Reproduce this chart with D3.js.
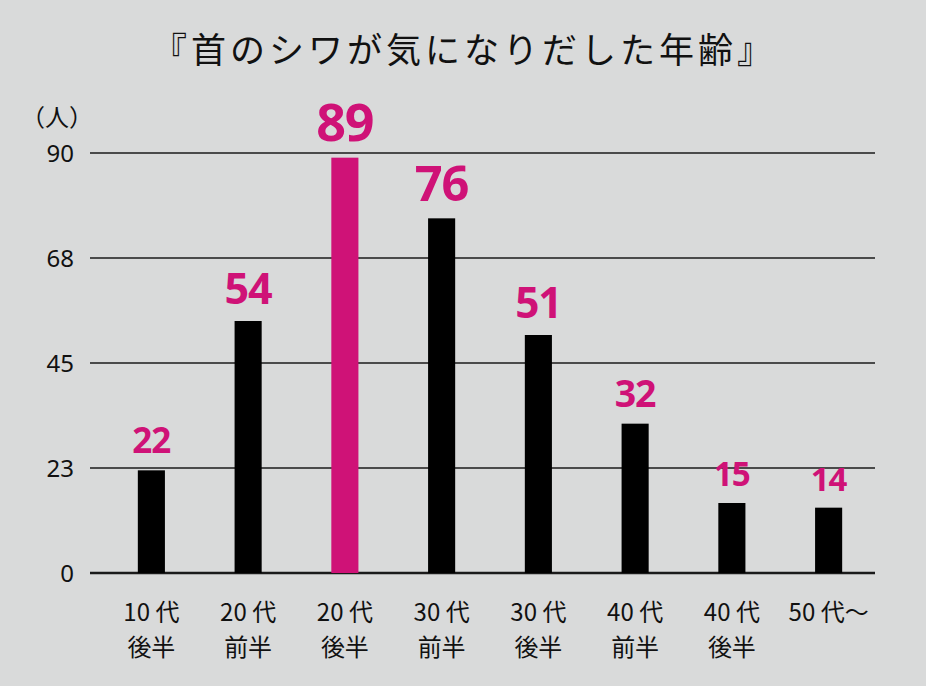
<!DOCTYPE html>
<html>
<head>
<meta charset="utf-8">
<script src="https://d3js.org/d3.v7.min.js"></script>
<style>
  html, body { margin: 0; padding: 0; background: #d9dada; }
  svg { display: block; }
</style>
</head>
<body>
<script>
// data
var title = "『首のシワが気になりだした年齢』";
var unitLabel = "（人）";
var ageGroup = ["10 代", "20 代", "20 代", "30 代", "30 代", "40 代", "40 代", "50 代〜"];
var ageHalf = ["後半", "前半", "後半", "前半", "後半", "前半", "後半", ""];
var counts = [22, 54, 89, 76, 51, 32, 15, 14];
var yTicks = [0, 22.5, 45, 67.5, 90];
var yTickLabels = ["0", "23", "45", "68", "90"];
var highlight = 2;

var w = 926, h = 686;
var pink = "#cf1277";

var svg = d3.select("body")
            .append("svg")
            .attr("width", w)
            .attr("height", h);

var x = d3.scaleBand()
          .domain(d3.range(counts.length))
          .range([103, 877])
          .paddingInner(0.72)
          .paddingOuter(0.36);

var y = d3.scaleLinear()
          .domain([0, 90])
          .range([573, 153]);

// label size grows with the value
var labelSize = d3.scaleLinear().domain([14, 89]).range([33, 52]);

svg.append("text")
   .attr("x", w / 2 + 1)
   .attr("y", 63)
   .attr("text-anchor", "middle")
   .attr("font-family", "'Noto Sans CJK JP', sans-serif")
   .attr("font-size", 35)
   .attr("letter-spacing", 4)
   .attr("fill", "#111")
   .text(title);

svg.append("text")
   .attr("x", 57)
   .attr("y", 126)
   .attr("text-anchor", "middle")
   .attr("font-family", "'Noto Sans CJK JP', sans-serif")
   .attr("font-size", 24)
   .attr("fill", "#111")
   .text(unitLabel);

// gridlines
svg.selectAll("line.grid")
   .data(yTicks)
   .enter()
   .append("line")
   .attr("class", "grid")
   .attr("x1", 90)
   .attr("x2", 875)
   .attr("y1", function(d){ return y(d); })
   .attr("y2", function(d){ return y(d); })
   .attr("stroke", "#1a1a1a")
   .attr("stroke-width", function(d){ return d === 0 ? 2.5 : 1.5; });

svg.selectAll("text.ytick")
   .data(yTicks)
   .enter()
   .append("text")
   .attr("class", "ytick")
   .attr("x", 74)
   .attr("y", function(d){ return y(d) + 9; })
   .attr("text-anchor", "end")
   .attr("font-family", "'Noto Sans', sans-serif")
   .attr("font-size", 24)
   .attr("fill", "#111")
   .text(function(d, i){ return yTickLabels[i]; });

svg.selectAll("rect.bar")
   .data(counts)
   .enter()
   .append("rect")
   .attr("class", "bar")
   .attr("x", function(d, i){ return x(i); })
   .attr("width", x.bandwidth())
   .attr("y", function(d){ return y(d); })
   .attr("height", function(d){ return y(0) - y(d); })
   .attr("fill", function(d, i){ return i === highlight ? pink : "#000"; });

svg.selectAll("text.val")
   .data(counts)
   .enter()
   .append("text")
   .attr("class", "val")
   .attr("x", function(d, i){ return x(i) + x.bandwidth() / 2; })
   .attr("y", function(d){ return y(d) - 17; })
   .attr("text-anchor", "middle")
   .attr("font-family", "'Noto Sans', sans-serif")
   .attr("font-weight", "bold")
   .attr("font-size", function(d){ return labelSize(d); })
   .attr("letter-spacing", -1)
   .attr("fill", pink)
   .text(function(d){ return d; });

var cat = svg.selectAll("g.cat")
   .data(ageGroup)
   .enter()
   .append("g")
   .attr("class", "cat")
   .attr("transform", function(d, i){
       return "translate(" + (x(i) + x.bandwidth() / 2) + ",0)";
   });

cat.append("text")
   .attr("y", 621)
   .attr("text-anchor", "middle")
   .attr("font-family", "'Noto Sans CJK JP', sans-serif")
   .attr("font-size", 24)
   .attr("fill", "#111")
   .text(function(d){ return d; });

cat.append("text")
   .attr("y", 656)
   .attr("text-anchor", "middle")
   .attr("font-family", "'Noto Sans CJK JP', sans-serif")
   .attr("font-size", 24)
   .attr("fill", "#111")
   .text(function(d, i){ return ageHalf[i]; });
</script>
</body>
</html>
